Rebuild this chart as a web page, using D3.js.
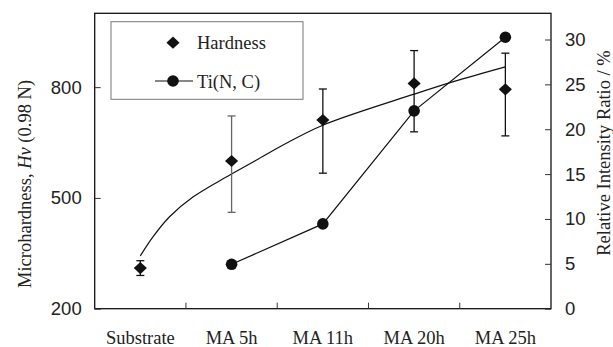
<!DOCTYPE html>
<html><head><meta charset="utf-8">
<script src="https://cdn.jsdelivr.net/npm/d3@7"></script>
<style>body{margin:0;background:#fff}svg{display:block}</style>
</head><body>
<svg id="c" width="613" height="347"></svg>
<script>
const categories = ["Substrate", "MA 5h", "MA 11h", "MA 20h", "MA 25h"];
const hardness = [310, 600, 711, 810, 794];
const hardnessHigh = [330, 722, 795, 899, 892];
const hardnessLow = [290, 461, 567, 679, 668];
const tinCats = ["MA 5h", "MA 11h", "MA 20h", "MA 25h"];
const tinRatio = [4.95, 9.45, 22.05, 30.25];
const trendPos = [0, 0.14, 0.32, 0.58, 0.98, 1.24, 1.6, 2.0, 3.0, 3.43, 4.0];
const trendHv = [343, 395, 449, 503, 562, 598, 648, 697, 781, 815, 855];
const leftTicks = [200, 500, 800];
const rightTicks = [0, 5, 10, 15, 20, 25, 30];

const svg = d3.select("#c");
const L = 94.7, R = 551, T = 13.3, B = 308.7;
const serif = "'Liberation Serif','Times New Roman',serif";
const sans = "'Liberation Sans',Arial,sans-serif";

const x = d3.scaleBand().domain(categories).range([L, R]);
const xi = d3.scaleLinear().domain([0, categories.length - 1])
  .range([x(categories[0]) + x.bandwidth() / 2, x(categories[categories.length - 1]) + x.bandwidth() / 2]);
const yL = d3.scaleLinear().domain([200, 1000]).range([B, T]);
const yR = d3.scaleLinear().domain([0, 32.92]).range([B, T]);
const cx = c => x(c) + x.bandwidth() / 2;

// frame
svg.append("rect").attr("x", L).attr("y", T).attr("width", R - L).attr("height", B - T)
  .attr("fill", "none").attr("stroke", "#111").attr("stroke-width", 1.3);

// left axis
const gl = svg.append("g").attr("transform", `translate(${L},0)`)
  .call(d3.axisLeft(yL).tickValues(leftTicks).tickSize(-6).tickPadding(13));
gl.select(".domain").remove();
gl.selectAll("line").attr("stroke", "#333");
gl.selectAll("text").attr("font-family", sans).attr("font-size", 18.5).attr("fill", "#222");

// right axis
const gr = svg.append("g").attr("transform", `translate(${R},0)`)
  .call(d3.axisRight(yR).tickValues(rightTicks).tickSize(-6).tickPadding(14));
gr.select(".domain").remove();
gr.selectAll("line").attr("stroke", "#333");
gr.selectAll("text").attr("font-family", sans).attr("font-size", 18.5).attr("fill", "#222");

// bottom axis
const gb = svg.append("g").attr("transform", `translate(0,${B})`)
  .call(d3.axisBottom(x).tickSize(0));
gb.select(".domain").remove();
gb.selectAll("text").attr("y", 35).attr("dy", null)
  .attr("font-family", serif).attr("font-size", 18.5).attr("fill", "#222");
// category boundary ticks
svg.append("g").selectAll("line").data(categories.slice(1)).join("line")
  .attr("x1", d => x(d)).attr("x2", d => x(d)).attr("y1", B).attr("y2", B - 6)
  .attr("stroke", "#333").attr("stroke-width", 1);

// axis titles
svg.append("text").attr("transform", "translate(30.5,184) rotate(-90)")
  .attr("text-anchor", "middle").attr("font-family", serif).attr("font-size", 18.5).attr("fill", "#222")
  .call(t => {
    t.append("tspan").text("Microhardness,  ");
    t.append("tspan").attr("font-style", "italic").text("Hv");
    t.append("tspan").text(" (0.98 N)");
  });
svg.append("text").attr("transform", "translate(609.5,153) rotate(-90)")
  .attr("text-anchor", "middle").attr("font-family", serif).attr("font-size", 18.5).attr("fill", "#222")
  .text("Relative Intensity Ratio  / %");

// trend line
svg.append("path")
  .datum(trendPos.map((p, i) => [p, trendHv[i]]))
  .attr("d", d3.line().x(d => xi(d[0])).y(d => yL(d[1])).curve(d3.curveCatmullRom))
  .attr("fill", "none").attr("stroke", "#111").attr("stroke-width", 1.2);

// error bars
const eb = svg.append("g");
categories.forEach((c, i) => {
  const col = i === 1 ? "#666" : "#111";
  eb.append("line").attr("x1", cx(c)).attr("x2", cx(c))
    .attr("y1", yL(hardnessHigh[i])).attr("y2", yL(hardnessLow[i])).attr("stroke", col).attr("stroke-width", 1.3);
  [hardnessHigh[i], hardnessLow[i]].forEach(v => {
    eb.append("line").attr("x1", cx(c) - 4).attr("x2", cx(c) + 4)
      .attr("y1", yL(v)).attr("y2", yL(v)).attr("stroke", col).attr("stroke-width", 1.3);
  });
});

// TiN line
svg.append("path")
  .datum(tinCats.map((c, i) => [c, tinRatio[i]]))
  .attr("d", d3.line().x(d => cx(d[0])).y(d => yR(d[1])))
  .attr("fill", "none").attr("stroke", "#111").attr("stroke-width", 1.2);
svg.append("g").selectAll("circle").data(tinCats).join("circle")
  .attr("cx", d => cx(d)).attr("cy", (d, i) => yR(tinRatio[i])).attr("r", 5.8).attr("fill", "#111");

// diamonds
const diamond = d3.symbol().type(d3.symbolDiamond2).size(110);
svg.append("g").selectAll("path").data(categories).join("path")
  .attr("d", diamond)
  .attr("transform", (d, i) => `translate(${cx(d)},${yL(hardness[i])}) scale(1,0.93)`)
  .attr("fill", "#111");

// legend
svg.append("rect").attr("x", 111).attr("y", 21.7).attr("width", 192).attr("height", 77.6)
  .attr("fill", "#fff").attr("stroke", "#777").attr("stroke-width", 1);
svg.append("path").attr("d", diamond).attr("transform", "translate(173,42.7) scale(1,0.93)").attr("fill", "#111");
svg.append("text").attr("x", 197).attr("y", 48.5).attr("font-family", serif).attr("font-size", 18.5).attr("fill", "#222").text("Hardness");
svg.append("line").attr("x1", 155).attr("x2", 193).attr("y1", 81).attr("y2", 81).attr("stroke", "#111").attr("stroke-width", 1.2);
svg.append("circle").attr("cx", 173).attr("cy", 81).attr("r", 5.8).attr("fill", "#111");
svg.append("text").attr("x", 197).attr("y", 87.5).attr("font-family", serif).attr("font-size", 18.5).attr("fill", "#222").text("Ti(N, C)");
</script>
</body></html>
